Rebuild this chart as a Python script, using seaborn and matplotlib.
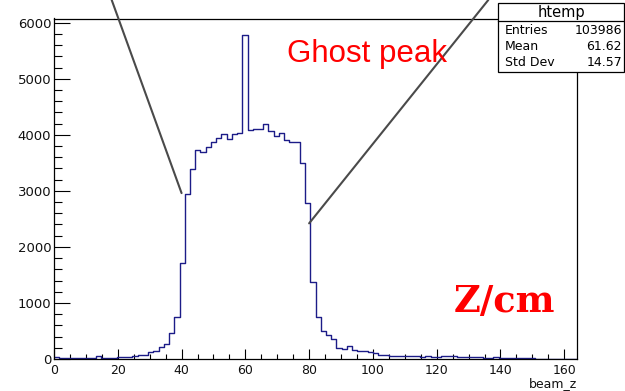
import numpy as np
import pandas as pd
import matplotlib
matplotlib.use("Agg")
import matplotlib.pyplot as plt
import seaborn as sns
from matplotlib.patches import Rectangle
from matplotlib.ticker import MultipleLocator

# ---------------- data ----------------
bin_width = 1.64
n_bins = 100
counts = [
    30, 20, 25, 15, 20, 15, 20, 25, 60, 20,          # 0-9
    20, 25, 30, 35, 40, 60, 65, 75, 120, 150,        # 10-19
    215, 275, 460, 745, 1720, 2950, 3390, 3720, 3690, 3775,   # 20-29
    3865, 3950, 4010, 3920, 4010, 4040, 5780, 4085, 4100, 4110,  # 30-39
    4200, 4060, 3970, 4040, 3900, 3870, 3870, 3490, 2775, 1375,  # 40-49
    750, 500, 435, 365, 200, 185, 225, 160, 150, 140,  # 50-59
    120, 100, 80, 66, 60, 55, 55, 48, 48, 45,          # 60-69
    36, 50, 40, 40, 45, 60, 45, 36, 35, 30,            # 70-79
    30, 35, 25, 25, 30, 25, 20, 25, 20, 20,            # 80-89
    20, 20,                                            # 90-91
]
counts = counts + [0] * (n_bins - len(counts))

x_ticks = [0, 20, 40, 60, 80, 100, 120, 140, 160]
y_ticks = [0, 1000, 2000, 3000, 4000, 5000, 6000]

stats_title = "htemp"
stat_names = ["Entries", "Mean", "Std Dev"]
stat_values = ["103986", "61.62", "14.57"]

x_label = "beam_z"
note_text = "Ghost peak"
unit_text = "Z/cm"
pointer_targets = [(40, 2960), (80, 2420)]

# ---------------- figure ----------------
edges = np.arange(n_bins + 1) * bin_width
centers = edges[:-1] + bin_width / 2
df = pd.DataFrame({"beam_z": centers, "count": counts})

fig = plt.figure(figsize=(6.25, 3.91), dpi=100)
ax = fig.add_axes([54 / 625, 32 / 391, 523 / 625, 340.5 / 391])

sns.histplot(data=df, x="beam_z", weights="count", binwidth=bin_width,
             binrange=(0, n_bins * bin_width),
             element="step", fill=False, color="#1c1c88", linewidth=1.0, ax=ax)

ax.set_xlim(0, 164)
ax.set_ylim(0, 6075)
ax.set_ylabel("")
ax.set_xticks(x_ticks)
ax.set_yticks(y_ticks)
ax.set_xticklabels([str(t) for t in x_ticks])
ax.set_yticklabels([str(t) for t in y_ticks])
ax.xaxis.set_minor_locator(MultipleLocator(5))
ax.yaxis.set_minor_locator(MultipleLocator(200))

for s in ax.spines.values():
    s.set_linewidth(0.9)
    s.set_color("black")

ax.tick_params(axis="x", which="major", direction="in", length=7.2, width=0.8,
               labelsize=9, pad=3.5, top=False, colors="black")
ax.tick_params(axis="x", which="minor", direction="in", length=3.6, width=0.8, top=False)
ax.tick_params(axis="y", which="major", direction="in", length=11.5, width=0.8,
               labelsize=9.5, pad=2, right=False, colors="black")
ax.tick_params(axis="y", which="minor", direction="in", length=5.8, width=0.8, right=False)
for lab in ax.get_xticklabels() + ax.get_yticklabels():
    lab.set_family("DejaVu Sans")
    lab.set_color("#111111")

ax.set_xlabel(x_label, fontsize=9, family="DejaVu Sans", color="#111111")
ax.xaxis.label.set_ha("right")
ax.xaxis.label.set_va("baseline")
ax.xaxis.set_label_coords(1.0, -(387.0 - 359) / 340.5)

# pointer lines
starts = [(111.7 / 625, 1.0), (488.3 / 625, 1.0)]
for (tx, ty), (sx, sy) in zip(pointer_targets, starts):
    ax.annotate("", xy=(tx, ty), xycoords="data", xytext=(sx, sy),
                textcoords="figure fraction", annotation_clip=False,
                arrowprops=dict(arrowstyle="-", color="#4a4a4a", lw=1.5,
                                shrinkA=0, shrinkB=0), zorder=5)

# annotations
fig.text(287 / 625, 1 - 61.7 / 391, note_text, color="red", fontsize=22.5,
         family="Liberation Sans", ha="left", va="baseline")
fig.text(454 / 625, 1 - 311.7 / 391, unit_text, color="red", fontsize=26.5,
         family="DejaVu Serif", weight="bold", ha="left", va="baseline")

# stats box
x0, x1 = 498 / 625, 624 / 625
yt, yb = 1 - 3 / 391, 1 - 72 / 391
ysep = 1 - 21 / 391
fig.add_artist(Rectangle((x0, yb), x1 - x0, yt - yb, transform=fig.transFigure,
                         facecolor="white", edgecolor="black", lw=0.9, zorder=10))
fig.add_artist(plt.Line2D([x0, x1], [ysep, ysep], transform=fig.transFigure,
                          color="black", lw=0.9, zorder=11))
fig.text((x0 + x1) / 2, 1 - 12 / 391, stats_title, ha="center", va="center",
         fontsize=10.5, family="DejaVu Sans", zorder=12)
row_y = [30, 46.7, 62.7]
for name, val, ry in zip(stat_names, stat_values, row_y):
    fig.text(505 / 625, 1 - ry / 391, name, ha="left", va="center",
             fontsize=9, family="DejaVu Sans", zorder=12)
    fig.text(622 / 625, 1 - ry / 391, val, ha="right", va="center",
             fontsize=9, family="DejaVu Sans", zorder=12)

fig.savefig("out.png", dpi=100)
